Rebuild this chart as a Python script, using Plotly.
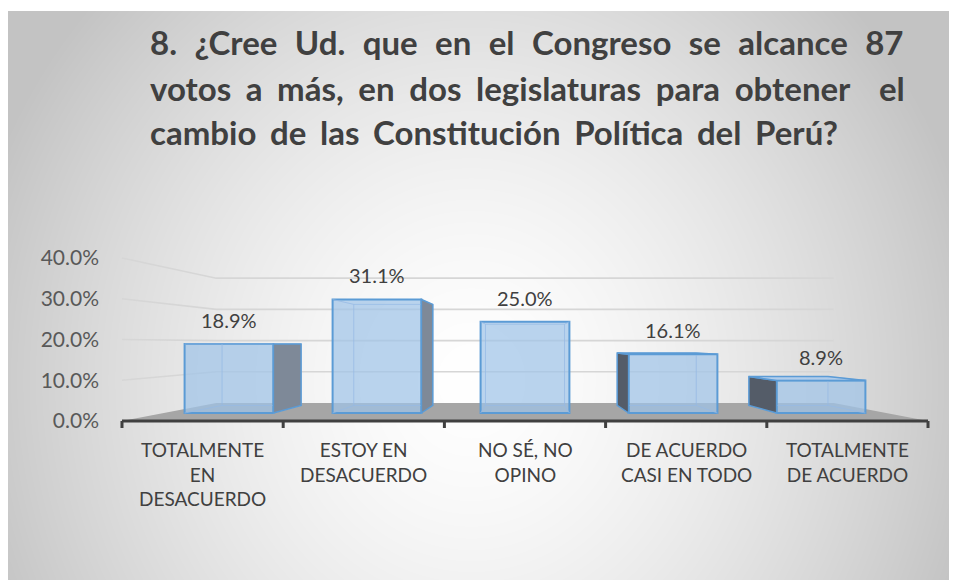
import base64
import struct
import zlib

import numpy as np
import plotly.graph_objects as go

# ---------------- data ----------------
categories = ["TOTALMENTE<br>EN<br>DESACUERDO", "ESTOY EN<br>DESACUERDO", "NO SÉ, NO<br>OPINO",
              "DE ACUERDO<br>CASI EN TODO", "TOTALMENTE<br>DE ACUERDO"]
values = [0.189, 0.311, 0.250, 0.161, 0.089]
y_ticks = [0.0, 0.1, 0.2, 0.3, 0.4]
title_lines = ["8. ¿Cree Ud. que en el Congreso se alcance 87",
               "votos a más, en dos legislaturas para obtener  el",
               "cambio de las Constitución Política del Perú?"]

# ---------------- geometry / style ----------------
W, H = 957, 580
OFF = 8                                   # page margin of the browser body
BAR0_PX, BAR_STEP_PX = 229.0 - OFF, 148.0  # pixel centre of first bar, spacing
BASE_PX, PX_PER_UNIT = 413.0 - OFF, 365.0  # pixel of value 0 on bar fronts, px per 1.0
BAR_W = 0.6
VPX, VPV = 2.0, 0.189                    # vanishing point (data units)
S_FRONT, S_BACK, S_WALL = 1.116, 0.89, 0.855
XL, XR = -0.44, 4.44                     # scene extent of floor / walls

x_range = [-BAR0_PX / BAR_STEP_PX, (W - BAR0_PX) / BAR_STEP_PX]
y_range = [(BASE_PX - H) / PX_PER_UNIT, BASE_PX / PX_PER_UNIT]


def proj(x, v, s):
    return VPX + s * (x - VPX), VPV + s * (v - VPV)


def poly(points):
    xs = [p[0] for p in points] + [points[0][0]]
    ys = [p[1] for p in points] + [points[0][1]]
    return xs, ys


TEXT = "#404040"
FONT = "Lato"

# ---------------- background gradient image ----------------
fx0, fy0 = 7 - OFF, 11 - OFF
gw, gh = W - fx0, H - fy0
yy, xx = np.mgrid[0:gh, 0:gw]
cx, cy, rx, ry = 470 - 7, 380 - 11, 520.0, 560.0
d = np.sqrt(((xx - cx) / rx) ** 2 + ((yy - cy) / ry) ** 2)
d = np.clip(d, 0, 1)
g = (255 - 60 * d ** 1.5).astype(np.uint8)
img = np.stack([g, g, g], axis=-1)


def png_uri(arr):
    h, w, _ = arr.shape
    raw = b"".join(b"\x00" + arr[r].tobytes() for r in range(h))

    def chunk(t, dd):
        return struct.pack(">I", len(dd)) + t + dd + struct.pack(">I", zlib.crc32(t + dd) & 0xFFFFFFFF)

    png = (b"\x89PNG\r\n\x1a\n" + chunk(b"IHDR", struct.pack(">IIBBBBB", w, h, 8, 2, 0, 0, 0))
           + chunk(b"IDAT", zlib.compress(raw, 9)) + chunk(b"IEND", b""))
    return "data:image/png;base64," + base64.b64encode(png).decode()


fig = go.Figure()

# ---------------- base layer: floor + wall gridlines + axis ----------------
floor = [proj(XL, 0, S_FRONT), proj(XR, 0, S_FRONT), proj(XR, 0, S_WALL), proj(XL, 0, S_WALL)]
fxs, fys = poly(floor)
fig.add_trace(go.Scatter(x=fxs, y=fys, fill="toself", fillcolor="rgb(166,166,166)",
                         line=dict(width=0), mode="lines", hoverinfo="skip", showlegend=False))

gx, gy = [], []
for t in y_ticks[1:]:
    for p in [proj(XL, t, S_FRONT), proj(XL, t, S_WALL), proj(XR, t, S_WALL)]:
        gx.append(p[0]); gy.append(p[1])
    gx.append(None); gy.append(None)
fig.add_trace(go.Scatter(x=gx, y=gy, mode="lines", line=dict(color="rgb(214,214,214)", width=1.6),
                         hoverinfo="skip", showlegend=False))

# axis line and ticks
n = len(categories)
step = (XR - XL) / n
ax0 = proj(XL, 0, S_FRONT)
ax1 = proj(XR, 0, S_FRONT)
fig.add_trace(go.Scatter(x=[ax0[0], ax1[0]], y=[ax0[1], ax1[1]], mode="lines",
                         line=dict(color="#404040", width=3), hoverinfo="skip", showlegend=False))
tx, ty = [], []
tick_len = 7 / PX_PER_UNIT
for k in range(n + 1):
    p = proj(XL + k * step, 0, S_FRONT)
    tx += [p[0], p[0], None]
    ty += [p[1], p[1] - tick_len, None]
fig.add_trace(go.Scatter(x=tx, y=ty, mode="lines", line=dict(color="#404040", width=3),
                         hoverinfo="skip", showlegend=False))

# ---------------- bars (overlay layer) ----------------
xs_bar = list(range(n))
fig.add_trace(go.Bar(x=xs_bar, y=values, width=BAR_W, xaxis="x2", yaxis="y3",
                     marker=dict(color="rgba(160,196,232,0.72)",
                                 line=dict(color="rgb(91,155,213)", width=2)),
                     hoverinfo="skip", showlegend=False))

for i, v in enumerate(values):
    xa, xb = i - BAR_W / 2, i + BAR_W / 2
    # hidden back edges seen through translucent faces
    wx, wy = [], []
    back = [proj(xa, 0, S_BACK), proj(xb, 0, S_BACK), proj(xb, v, S_BACK), proj(xa, v, S_BACK)]
    bx, by = poly(back)
    wx += bx + [None]; wy += by + [None]
    for (px_, pv_) in [(xa, 0), (xb, 0), (xa, v), (xb, v)]:
        f = proj(px_, pv_, 1.0); b = proj(px_, pv_, S_BACK)
        wx += [f[0], b[0], None]; wy += [f[1], b[1], None]
    fig.add_trace(go.Scatter(x=wx, y=wy, mode="lines", xaxis="x2", yaxis="y3",
                             line=dict(color="rgba(150,186,228,0.75)", width=1),
                             hoverinfo="skip", showlegend=False))
    # side face
    if abs(i - VPX) > 0.01:
        xe = xb if i < VPX else xa
        col = "rgb(126,137,152)" if i < VPX else "rgb(84,92,104)"
        side = [proj(xe, 0, 1.0), proj(xe, v, 1.0), proj(xe, v, S_BACK), proj(xe, 0, S_BACK)]
        sx, sy = poly(side)
        fig.add_trace(go.Scatter(x=sx, y=sy, mode="lines", fill="toself", fillcolor=col,
                                 xaxis="x2", yaxis="y3",
                                 line=dict(color="rgb(91,155,213)", width=1.5),
                                 hoverinfo="skip", showlegend=False))
    # top face (visible when below eye level)
    if v < VPV - 0.002:
        top = [proj(xa, v, 1.0), proj(xb, v, 1.0), proj(xb, v, S_BACK), proj(xa, v, S_BACK)]
        tx_, ty_ = poly(top)
        fig.add_trace(go.Scatter(x=tx_, y=ty_, mode="lines", fill="toself",
                                 fillcolor="rgba(170,202,236,0.85)", xaxis="x2", yaxis="y3",
                                 line=dict(color="rgb(91,155,213)", width=1.5),
                                 hoverinfo="skip", showlegend=False))

# dummy trace for the value-axis labels
fig.add_trace(go.Scatter(x=[0], y=[0], yaxis="y2", mode="markers", opacity=0,
                         hoverinfo="skip", showlegend=False))

# ---------------- annotations ----------------
ann = []
for i, v in enumerate(values):
    ann.append(dict(x=i, y=v, xref="x", yref="y", text=f"{v * 100:.1f}%", showarrow=False,
                    yshift=24, yanchor="middle", xanchor="center",
                    font=dict(family=FONT, size=20, color=TEXT)))
for k, c in enumerate(categories):
    p = proj(XL + (k + 0.5) * step, 0, S_FRONT)
    ann.append(dict(x=p[0], y=p[1], xref="x", yref="y", text=c, showarrow=False,
                    yanchor="top", xanchor="center", yshift=-15, align="center",
                    font=dict(family=FONT, size=19, color=TEXT)))
title_y = [42 - OFF, 88 - OFF, 132 - OFF]
word_sp = [9.4, 6.6, 5.6]
for line, ty0, ws in zip(title_lines, title_y, word_sp):
    ann.append(dict(x=(148 - OFF) / W, y=1 - ty0 / H, xref="paper", yref="paper",
                    text=f'<span style="word-spacing:{ws}px"><b>{line}</b></span>',
                    showarrow=False, xanchor="left", yanchor="middle",
                    font=dict(family=FONT, size=33, color=TEXT)))

# value-axis mapping along the left wall front edge
y2_range = [VPV + (y_range[0] - VPV) / S_FRONT, VPV + (y_range[1] - VPV) / S_FRONT]

hidden = dict(visible=False, showgrid=False, zeroline=False, fixedrange=True)
fig.update_layout(
    width=W, height=H,
    margin=dict(l=0, r=0, t=0, b=0),
    paper_bgcolor="white", plot_bgcolor="rgba(0,0,0,0)",
    xaxis=dict(range=x_range, domain=[0, 1], **hidden),
    yaxis=dict(range=y_range, domain=[0, 1], **hidden),
    xaxis2=dict(range=x_range, overlaying="x", **hidden),
    yaxis3=dict(range=y_range, overlaying="y", **hidden),
    yaxis2=dict(range=y2_range, overlaying="y", anchor="free", position=(99 - OFF) / W, side="left",
                tickvals=y_ticks, tickformat=".1%", showgrid=False, zeroline=False, showline=False,
                ticks="", tickfont=dict(family=FONT, size=21, color="#595959"), fixedrange=True),
    images=[dict(source=png_uri(img), xref="paper", yref="paper", x=0, y=1 - fy0 / H,
                 sizex=gw / W, sizey=gh / H, sizing="stretch", layer="below",
                 xanchor="left", yanchor="top")],
    annotations=ann,
    showlegend=False,
)

fig.write_html("out.html")
